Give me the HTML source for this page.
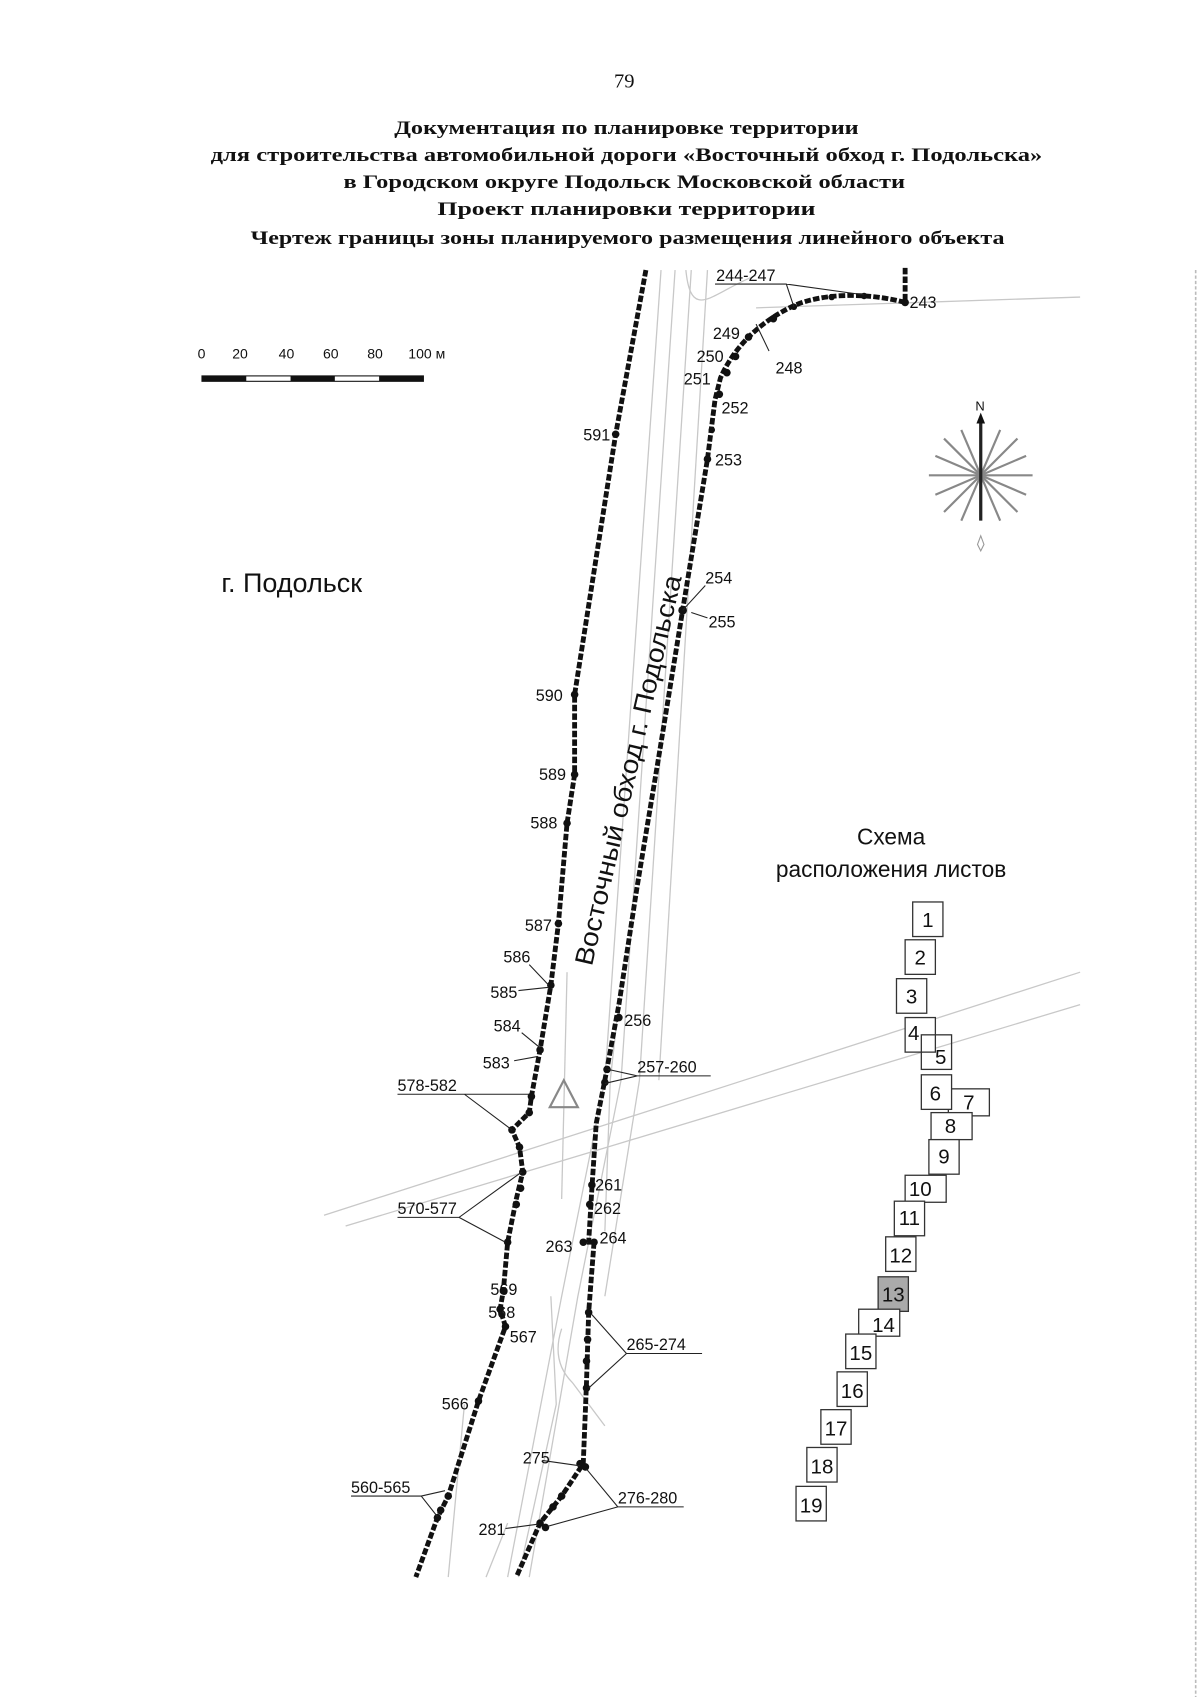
<!DOCTYPE html>
<html><head><meta charset="utf-8"><style>
html,body{margin:0;padding:0;background:#fff;width:1200px;height:1697px;overflow:hidden}
svg{display:block}
.t{font-family:"Liberation Serif","Noto Serif CJK SC",serif;font-weight:bold;font-size:18px;fill:#111}
.l{font-family:"Liberation Sans",sans-serif;font-size:15px;fill:#111}
.b{fill:none;stroke:#111;stroke-width:4.5;stroke-dasharray:6 2}
.ld{fill:none;stroke:#222;stroke-width:1}
.g{fill:none;stroke:#c8c8c8;stroke-width:1.2}
.bx{fill:#fff;stroke:#333;stroke-width:1.2}
.n{font-family:"Liberation Sans",sans-serif;font-size:19px;fill:#111}
</style></head><body>
<svg width="1200" height="1697" viewBox="0 0 1111 1571" preserveAspectRatio="none" xmlns="http://www.w3.org/2000/svg">
<text x="578" y="81" class="t" style="font-weight:normal;font-size:19px" text-anchor="middle">79</text>
<text x="365" y="124" class="t" textLength="430" lengthAdjust="spacingAndGlyphs">Документация по планировке территории</text>
<text x="195" y="149" class="t" textLength="770" lengthAdjust="spacingAndGlyphs">для строительства автомобильной дороги «Восточный обход г. Подольска»</text>
<text x="318" y="174" class="t" textLength="520" lengthAdjust="spacingAndGlyphs">в Городском округе Подольск Московской области</text>
<text x="405" y="199" class="t" textLength="350" lengthAdjust="spacingAndGlyphs">Проект планировки территории</text>
<text x="232" y="226" class="t" textLength="698" lengthAdjust="spacingAndGlyphs">Чертеж границы зоны планируемого размещения линейного объекта</text>

<g class="g">
<path d="M612 250 L560 1000 L520 1200 L470 1460"/>
<path d="M625 250 L575 1000 L535 1200 L490 1460"/>
<path d="M640 250 L592 1000 L560 1200"/>
<path d="M655 250 L610 1000"/>
<path d="M635 250 C 640 300 660 270 700 255"/>
<path d="M1000 275 L700 285"/>
<path d="M300 1125 L1000 900"/>
<path d="M320 1135 L1000 930"/>
<path d="M430 1300 L415 1460"/>
<path d="M470 1410 L450 1460"/>
<path d="M510 1200 L515 1300 L480 1460"/>
<path d="M525 900 L520 1110"/>
<path d="M575 910 L565 1000 L560 1140"/>
<path d="M520 1230 Q510 1260 530 1280 L560 1320"/>
</g>
<line x1="1107" y1="250" x2="1107" y2="1571" stroke="#bbb" stroke-width="1.5" stroke-dasharray="3 2"/>

<g class="l" style="font-size:13px">
<text x="183" y="332">0</text><text x="215" y="332">20</text><text x="258" y="332">40</text><text x="299" y="332">60</text><text x="340" y="332">80</text><text x="378" y="332">100 м</text>
</g>
<rect x="187" y="348" width="205" height="5" fill="#fff" stroke="#111" stroke-width="1"/>
<rect x="187" y="348" width="41" height="5" fill="#111"/><rect x="269" y="348" width="41" height="5" fill="#111"/><rect x="351" y="348" width="41" height="5" fill="#111"/>

<text x="205" y="548" class="l" style="font-size:25px">г. Подольск</text>

<g transform="translate(908,440)">
<text x="-5" y="-60" class="l" style="font-size:12px">N</text>
<g stroke="#888" stroke-width="2">
<line x1="-48" y1="0" x2="48" y2="0"/>
<line x1="-34" y1="-34" x2="34" y2="34"/><line x1="-34" y1="34" x2="34" y2="-34"/>
<line x1="-18" y1="-42" x2="18" y2="42"/><line x1="18" y1="-42" x2="-18" y2="42"/>
<line x1="-42" y1="-18" x2="42" y2="18"/><line x1="-42" y1="18" x2="42" y2="-18"/>
</g>
<line x1="0" y1="-52" x2="0" y2="42" stroke="#222" stroke-width="3"/>
<path d="M0 -58 L-4 -48 L4 -48 Z" fill="#111"/>
<path d="M0 56 L-3 64 L0 70 L3 64 Z" fill="none" stroke="#999"/>
</g>

<path class="b" d="M598 250 L570 402 L532 643 L532 717 L525 762 L517 855 L510 912 L500 972 L492 1015 L490 1030 L474 1046 L481 1062 L484 1085 L478 1110 L470 1150 L466 1195 L463 1212 L468 1228 L443 1297 L415 1385 L405 1405 L385 1460"/>
<path class="b" d="M838 248 L838 280 C 800 270 760 272 735 283 C 705 297 680 320 667 350 L662 370 L655 425 L632 565 L610 700 L590 820 L573 930 L560 1000 L552 1040 L548 1100 L545 1150 L540 1150 M550 1150 L545 1215 L543 1280 L540 1355 L520 1385 L500 1410 L478 1460"/>
<g fill="#111">
<circle cx="838" cy="280" r="3.5"/><circle cx="800" cy="274" r="3"/><circle cx="770" cy="275" r="3"/><circle cx="735" cy="284" r="3"/><circle cx="716" cy="295" r="3.5"/><circle cx="693" cy="312" r="3.5"/><circle cx="681" cy="330" r="3.5"/><circle cx="673" cy="345" r="3.5"/><circle cx="666" cy="365" r="3.5"/><circle cx="659" cy="398" r="3"/><circle cx="655" cy="425" r="3.5"/><circle cx="632" cy="565" r="4"/>
<circle cx="570" cy="402" r="3.5"/><circle cx="532" cy="643" r="3.5"/><circle cx="532" cy="717" r="3.5"/><circle cx="525" cy="762" r="3.5"/><circle cx="517" cy="855" r="3.5"/><circle cx="510" cy="912" r="3.5"/><circle cx="500" cy="972" r="3.5"/><circle cx="492" cy="1015" r="3.5"/><circle cx="490" cy="1030" r="3.5"/><circle cx="474" cy="1046" r="3.5"/><circle cx="481" cy="1062" r="3.5"/><circle cx="484" cy="1085" r="3.5"/><circle cx="482" cy="1100" r="3.5"/><circle cx="478" cy="1115" r="3.5"/><circle cx="470" cy="1150" r="3.5"/><circle cx="466" cy="1195" r="3.5"/><circle cx="463" cy="1212" r="3.5"/><circle cx="468" cy="1228" r="3.5"/><circle cx="443" cy="1297" r="3.5"/><circle cx="415" cy="1385" r="3.5"/><circle cx="408" cy="1398" r="3.5"/><circle cx="405" cy="1405" r="3.5"/>
<circle cx="573" cy="942" r="3.5"/><circle cx="562" cy="990" r="3.5"/><circle cx="560" cy="1002" r="3.5"/><circle cx="548" cy="1097" r="3.5"/><circle cx="546" cy="1115" r="3.5"/><circle cx="540" cy="1150" r="3.5"/><circle cx="550" cy="1150" r="3.5"/><circle cx="545" cy="1215" r="3.5"/><circle cx="544" cy="1240" r="3.5"/><circle cx="543" cy="1260" r="3.5"/><circle cx="543" cy="1285" r="3.5"/><circle cx="537" cy="1355" r="3.5"/><circle cx="542" cy="1358" r="3.5"/><circle cx="520" cy="1385" r="3.5"/><circle cx="512" cy="1395" r="3.5"/><circle cx="500" cy="1410" r="3.5"/><circle cx="505" cy="1414" r="3.5"/>
</g>
<path d="M522 1000 L535 1025 L509 1025 Z" fill="none" stroke="#888" stroke-width="2"/>

<text class="l" style="font-size:24px" transform="translate(548,895) rotate(-77)" textLength="370" lengthAdjust="spacingAndGlyphs">Восточный обход г. Подольска</text>

<g class="ld">
<path d="M662 263 L728 263 L735 284 M728 263 L800 273"/>
<path d="M700 300 L712 325"/>
<path d="M632 565 L653 542 M640 567 L655 572"/>
<path d="M508 912 L490 893 M508 914 L480 917 M500 970 L483 956 M498 978 L476 982"/>
<path d="M368 1013 L490 1013 M430 1013 L474 1046"/>
<path d="M368 1127 L425 1127 L483 1085 M425 1127 L468 1150"/>
<path d="M325 1385 L390 1385 L412 1380 M390 1385 L405 1404"/>
<path d="M590 996 L658 996 M590 996 L563 990 M590 996 L560 1003"/>
<path d="M580 1253 L650 1253 M580 1253 L548 1217 M580 1253 L545 1285"/>
<path d="M502 1352 L537 1357"/>
<path d="M572 1395 L633 1395 M572 1395 L543 1360 M572 1395 L507 1413"/>
<path d="M468 1415 L498 1411"/>
</g>

<g class="l">
<text x="663" y="260">244-247</text><text x="842" y="285">243</text>
<text x="660" y="314">249</text><text x="645" y="335">250</text><text x="633" y="356">251</text><text x="718" y="346">248</text>
<text x="668" y="383">252</text><text x="662" y="431">253</text><text x="653" y="540">254</text><text x="656" y="581">255</text>
<text x="540" y="408">591</text><text x="496" y="649">590</text><text x="499" y="722">589</text><text x="491" y="767">588</text>
<text x="486" y="862">587</text><text x="466" y="891">586</text><text x="454" y="924">585</text><text x="457" y="955">584</text><text x="447" y="989">583</text>
<text x="368" y="1010">578-582</text><text x="368" y="1124">570-577</text>
<text x="454" y="1199">569</text><text x="452" y="1220">568</text><text x="472" y="1243">567</text><text x="409" y="1305">566</text><text x="325" y="1382">560-565</text>
<text x="578" y="950">256</text><text x="590" y="993">257-260</text><text x="551" y="1102">261</text><text x="550" y="1124">262</text>
<text x="505" y="1159">263</text><text x="555" y="1151">264</text><text x="580" y="1250">265-274</text>
<text x="484" y="1355">275</text><text x="572" y="1392">276-280</text><text x="443" y="1421">281</text>
</g>

<text x="825" y="782" class="l" style="font-size:21px" text-anchor="middle">Схема</text>
<text x="825" y="812" class="l" style="font-size:21px" text-anchor="middle">расположения листов</text>
<g>
<rect class="bx" x="845" y="835" width="28" height="32"/><text class="n" x="859" y="858" text-anchor="middle">1</text>
<rect class="bx" x="838" y="870" width="28" height="32"/><text class="n" x="852" y="893" text-anchor="middle">2</text>
<rect class="bx" x="830" y="906" width="28" height="32"/><text class="n" x="844" y="929" text-anchor="middle">3</text>
<rect class="bx" x="838" y="942" width="28" height="32"/><text class="n" x="846" y="963" text-anchor="middle">4</text>
<rect class="bx" x="853" y="958" width="28" height="32" style="fill:none"/><text class="n" x="871" y="985" text-anchor="middle">5</text>
<rect class="bx" x="878" y="1008" width="38" height="25"/><text class="n" x="897" y="1027" text-anchor="middle">7</text>
<rect class="bx" x="853" y="995" width="28" height="32"/><text class="n" x="866" y="1019" text-anchor="middle">6</text>
<rect class="bx" x="862" y="1030" width="38" height="25"/><text class="n" x="880" y="1049" text-anchor="middle">8</text>
<rect class="bx" x="860" y="1055" width="28" height="32"/><text class="n" x="874" y="1077" text-anchor="middle">9</text>
<rect class="bx" x="838" y="1088" width="38" height="25"/><text class="n" x="852" y="1107" text-anchor="middle">10</text>
<rect class="bx" x="828" y="1112" width="28" height="32"/><text class="n" x="842" y="1134" text-anchor="middle">11</text>
<rect class="bx" x="820" y="1145" width="28" height="32"/><text class="n" x="834" y="1169" text-anchor="middle">12</text>
<rect x="813" y="1182" width="28" height="32" fill="#aaa" stroke="#333" stroke-width="1.2"/><text class="n" x="827" y="1205" text-anchor="middle">13</text>
<rect class="bx" x="795" y="1212" width="38" height="25"/><text class="n" x="818" y="1233" text-anchor="middle">14</text>
<rect class="bx" x="783" y="1235" width="28" height="32"/><text class="n" x="797" y="1259" text-anchor="middle">15</text>
<rect class="bx" x="775" y="1270" width="28" height="32"/><text class="n" x="789" y="1294" text-anchor="middle">16</text>
<rect class="bx" x="760" y="1305" width="28" height="32"/><text class="n" x="774" y="1329" text-anchor="middle">17</text>
<rect class="bx" x="747" y="1340" width="28" height="32"/><text class="n" x="761" y="1364" text-anchor="middle">18</text>
<rect class="bx" x="737" y="1376" width="28" height="32"/><text class="n" x="751" y="1400" text-anchor="middle">19</text>
</g>
</svg>
</body></html>
